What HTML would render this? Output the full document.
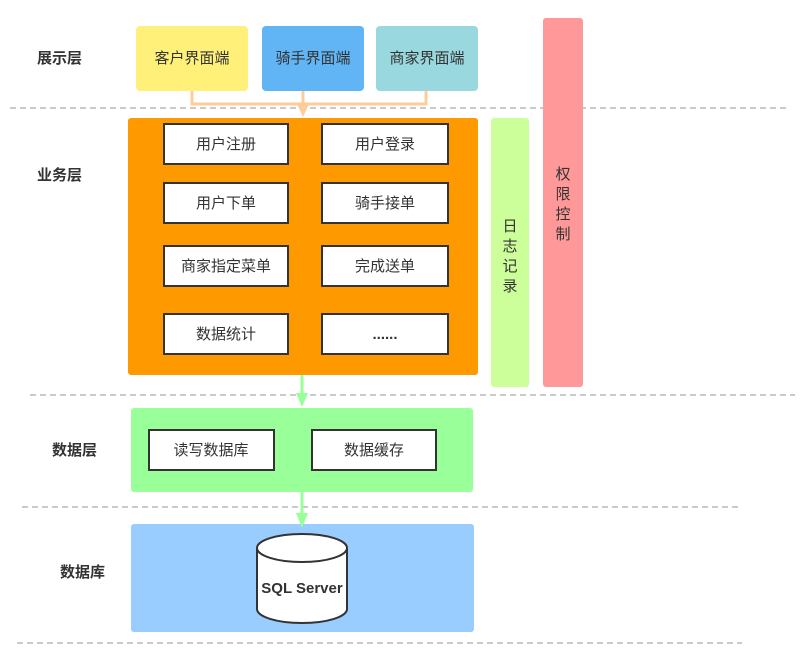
<!DOCTYPE html>
<html><head><meta charset="utf-8"><style>
html,body{margin:0;padding:0;background:#fff;}
svg text{font-family:"Liberation Sans","Noto Sans CJK SC",sans-serif;fill:#333;}
</style></head><body>
<svg width="800" height="653" viewBox="0 0 800 653" xmlns="http://www.w3.org/2000/svg">
<g stroke="#aaa" stroke-width="1.3" stroke-dasharray="6,4">
<line x1="10" y1="108" x2="790" y2="108"/>
<line x1="30" y1="395" x2="795" y2="395"/>
<line x1="22" y1="507" x2="742" y2="507"/>
<line x1="17" y1="643" x2="742" y2="643"/>
</g>
<g font-size="15" font-weight="bold">
<text x="37" y="63">展示层</text>
<text x="37" y="180">业务层</text>
<text x="52" y="455">数据层</text>
<text x="60" y="577">数据库</text>
</g>
<rect x="543" y="18" width="40" height="369" rx="3" fill="#ff9999"/>
<g font-size="15" text-anchor="middle"><text x="563" y="179">权</text><text x="563" y="199">限</text><text x="563" y="219">控</text><text x="563" y="239">制</text></g>
<rect x="491" y="118" width="38" height="269" rx="3" fill="#ccff99"/>
<g font-size="15" text-anchor="middle"><text x="510" y="231">日</text><text x="510" y="251">志</text><text x="510" y="271">记</text><text x="510" y="291">录</text></g>
<rect x="136" y="26" width="112" height="65" rx="4" fill="#fff07a"/>
<rect x="262" y="26" width="102" height="65" rx="4" fill="#62b5f5"/>
<rect x="376" y="26" width="102" height="65" rx="4" fill="#98d8de"/>
<g font-size="15" text-anchor="middle"><text x="192" y="63">客户界面端</text><text x="313" y="63">骑手界面端</text><text x="427" y="63">商家界面端</text></g>
<g stroke="#ffcc99" stroke-width="3" fill="none"><polyline points="192,91 192,104 426,104 426,91"/><line x1="303" y1="91" x2="303" y2="106"/></g>
<polygon points="297,104 309,104 303,117" fill="#ffcc99"/>
<rect x="128" y="118" width="350" height="257" rx="3" fill="#ff9900"/>
<g fill="#fff" stroke="#333" stroke-width="2">
<rect x="164" y="124" width="124" height="40"/><rect x="322" y="124" width="126" height="40"/>
<rect x="164" y="183" width="124" height="40"/><rect x="322" y="183" width="126" height="40"/>
<rect x="164" y="246" width="124" height="40"/><rect x="322" y="246" width="126" height="40"/>
<rect x="164" y="314" width="124" height="40"/><rect x="322" y="314" width="126" height="40"/>
</g>
<g font-size="15" text-anchor="middle">
<text x="226" y="149">用户注册</text><text x="385" y="149">用户登录</text>
<text x="226" y="208">用户下单</text><text x="385" y="208">骑手接单</text>
<text x="226" y="271">商家指定菜单</text><text x="385" y="271">完成送单</text>
<text x="226" y="339">数据统计</text><text x="385" y="339" font-weight="bold">......</text>
</g>
<line x1="302" y1="375" x2="302" y2="395" stroke="#99ff99" stroke-width="3"/>
<polygon points="296,393 308,393 302,407" fill="#99ff99"/>
<rect x="131" y="408" width="342" height="84" rx="3" fill="#99ff99"/>
<g fill="#fff" stroke="#333" stroke-width="2"><rect x="149" y="430" width="125" height="40"/><rect x="312" y="430" width="124" height="40"/></g>
<g font-size="15" text-anchor="middle"><text x="211" y="455">读写数据库</text><text x="374" y="455">数据缓存</text></g>
<rect x="131" y="524" width="343" height="108" rx="3" fill="#99ccff"/>
<line x1="302" y1="492" x2="302" y2="515" stroke="#99ff99" stroke-width="3"/>
<polygon points="296,513 308,513 302,528" fill="#99ff99"/>
<path d="M257,548 L257,609 A45,14 0 0 0 347,609 L347,548" fill="#fff" stroke="#333" stroke-width="2"/>
<ellipse cx="302" cy="548" rx="45" ry="14" fill="#fff" stroke="#333" stroke-width="2"/>
<text x="302" y="593" font-size="15" font-weight="bold" text-anchor="middle">SQL Server</text>
</svg>
</body></html>
